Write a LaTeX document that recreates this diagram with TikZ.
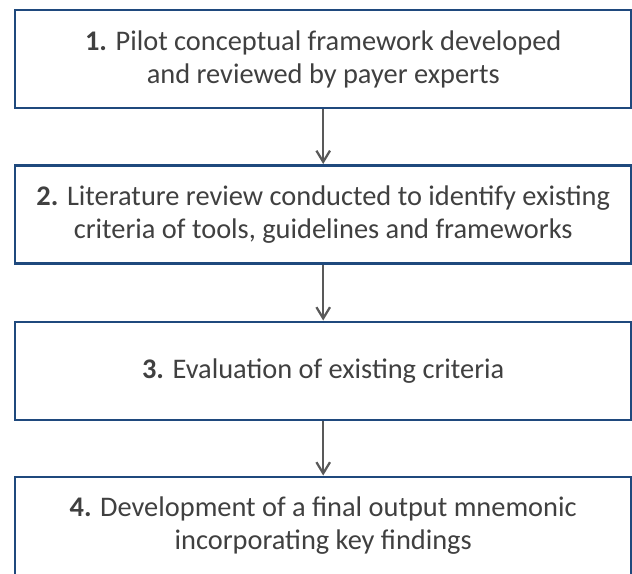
\documentclass[tikz,border=0pt]{standalone}
\usepackage{fontspec}
\setmainfont{Carlito}
\usetikzlibrary{arrows.meta}

\definecolor{boxblue}{HTML}{1F497D}
\definecolor{txtgray}{HTML}{404040}
\definecolor{arrgray}{HTML}{595959}

\tikzset{
  stepbox/.style={draw=boxblue, line width=2.1pt, fill=white,
    minimum width=15.41cm, minimum height=2.45cm, inner sep=0pt,
    align=center, text=txtgray,
    font=\fontsize{20.2}{23.5}\selectfont},
  flow/.style={draw=arrgray, line width=1.6pt,
    -{Straight Barb[length=2.8mm,width=3.4mm,line width=1.6pt]}}
}

\begin{document}
\begin{tikzpicture}
   \useasboundingbox (0,0) rectangle (15.8,-14.325);
   \clip (0,0) rectangle (15.8,-14.325);

   \node[stepbox] (s1) at (8.08,-1.475) {\textbf{1.} Pilot conceptual framework developed\\and reviewed by payer experts};
   \node[stepbox] (s2) at (8.08,-5.3625) {\textbf{2.} Literature review conducted to identify existing\\criteria of tools, guidelines and frameworks};
   \node[stepbox] (s3) at (8.08,-9.275) {\textbf{3.} Evaluation of existing criteria};
   \node[stepbox] (s4) at (8.08,-13.15) {\textbf{4.} Development of a final output mnemonic\\incorporating key findings};

   \path (s1) edge[flow] (s2);
   \path (s2) edge[flow] (s3);
   \path (s3) edge[flow] (s4);

\end{tikzpicture}
\end{document}
